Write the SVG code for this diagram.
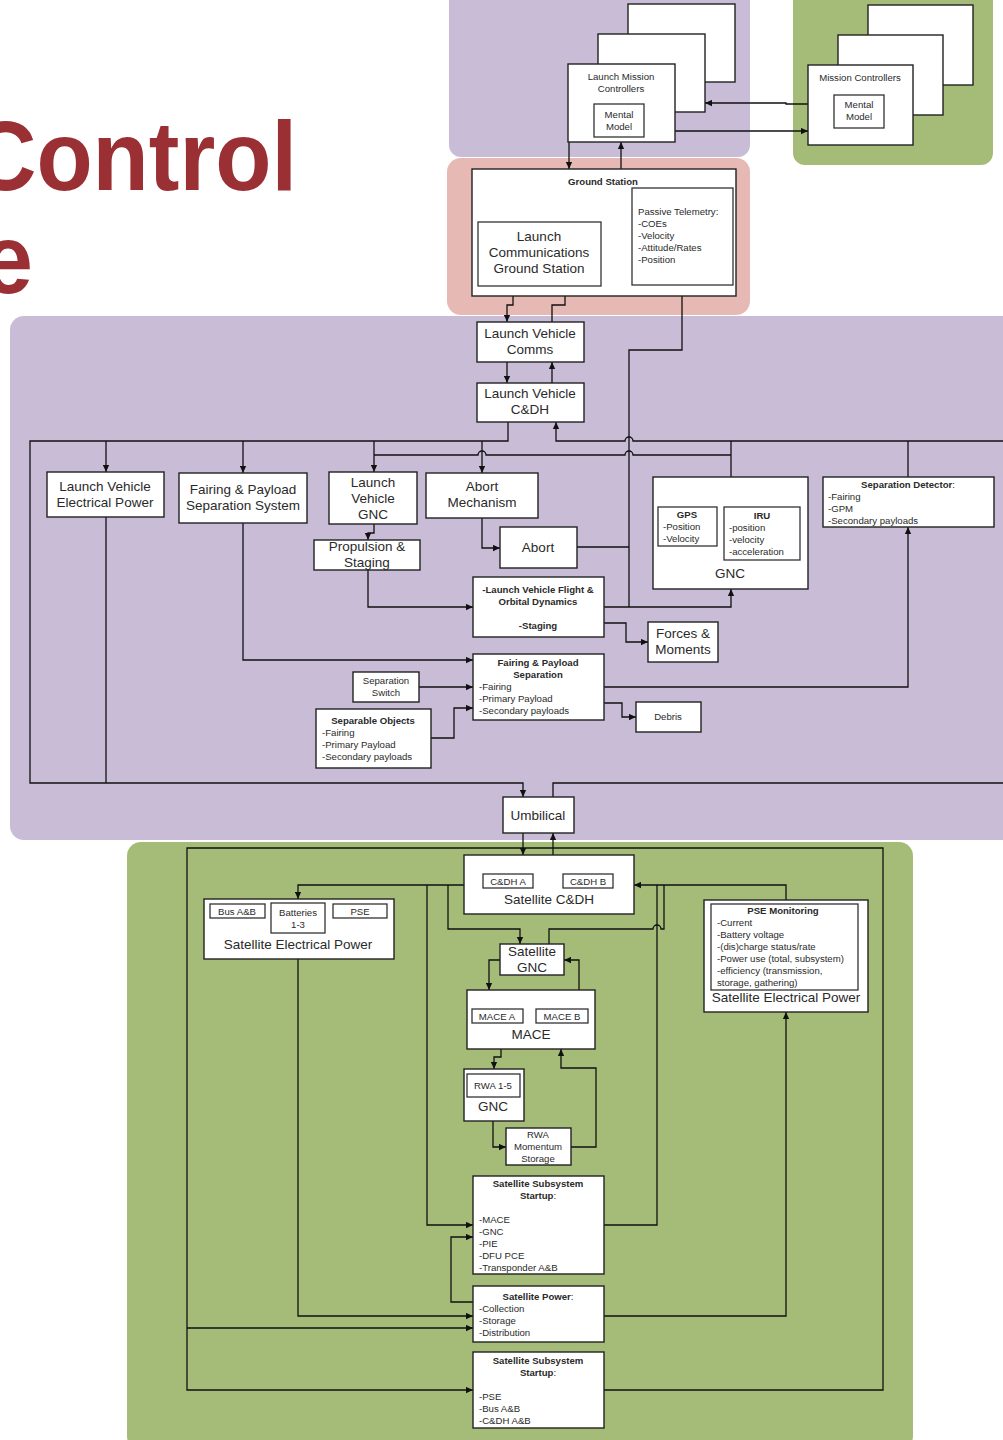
<svg xmlns="http://www.w3.org/2000/svg" width="1003" height="1440" viewBox="0 0 1003 1440">
<defs>
<marker id="ah" viewBox="0 0 10 10" refX="10" refY="5" markerWidth="7" markerHeight="7" markerUnits="userSpaceOnUse" orient="auto"><path d="M0,0.5 L10,5 L0,9.5 z" fill="#111"/></marker>
<style>
.bg{stroke:none}
.box{fill:#fff;stroke:#222;stroke-width:1.4}
.ib{fill:#fff;stroke:#333;stroke-width:1.3}
.ln{fill:none;stroke:#111;stroke-width:1.3}
.a{marker-end:url(#ah)}
text{font-family:"Liberation Sans",Arial,sans-serif;fill:#2a2a2a}
.t13{font-size:13.5px;text-anchor:middle}
.t10{font-size:9.6px}
.c{text-anchor:middle}
.b{font-weight:bold}
.title{font-family:"Liberation Sans",Arial,sans-serif;font-weight:bold;font-size:92px;fill:#9b3034}
</style>
</defs>
<rect width="1003" height="1440" fill="#fff"/>
<!-- background panels -->
<rect class="bg" x="449" y="-12" width="301" height="169" rx="12" fill="#c9bcd7"/>
<rect class="bg" x="793" y="-12" width="200" height="177" rx="12" fill="#a5bc78"/>
<rect class="bg" x="447" y="158" width="303" height="157" rx="14" fill="#e6b9b5"/>
<rect class="bg" x="10" y="316" width="1010" height="524" rx="14" fill="#c9bcd7"/>
<rect class="bg" x="127" y="842" width="786" height="608" rx="14" fill="#a5bc78"/>
<text class="title" transform="translate(297,190) scale(1,1.06)" x="0" y="0" text-anchor="end">Control</text>
<text class="title" transform="translate(33,293) scale(1,1.06)" x="0" y="0" text-anchor="end">e</text>

<g id="connectors">
<!-- top -->
<path class="ln a" d="M808 104 L786 104 L786 103 L705 103"/>
<path class="ln a" d="M675 131 L808 131"/>
<path class="ln a" d="M569 142 L569 169"/>
<path class="ln a" d="M621 169 L621 142"/>
<path class="ln a" d="M513 296 L513 305 L507 305 L507 322"/>
<path class="ln" d="M552 322 L552 305 L565 305 L565 296"/>
<path class="ln a" d="M507 362 L507 383"/>
<path class="ln a" d="M552 383 L552 362"/>
<!-- buses -->
<path class="ln a" d="M508 422 L508 441 L30 441 L30 783 L523 783 L523 797"/>
<path class="ln a" d="M106 441 L106 472"/>
<path class="ln a" d="M243 441 L243 473"/>
<path class="ln" d="M106 517 L106 783"/>
<path class="ln a" d="M1003 441 L633 441 A4 4 0 0 0 625 441 L556 441 L556 422"/>
<path class="ln" d="M731 477 L731 441"/>
<path class="ln" d="M908 477 L908 441"/>
<path class="ln" d="M731 455 L633 455 A4 4 0 0 0 625 455 L486 455 A4 4 0 0 0 478 455 L374 455"/>
<path class="ln a" d="M374 441 L374 472"/>
<path class="ln a" d="M482 441 L482 473"/>
<path class="ln a" d="M629 607 L629 350 L682 350 L682 285"/>
<path class="ln a" d="M374 524 L374 533 L368 533 L368 540"/>
<path class="ln a" d="M368 570 L368 607 L473 607"/>
<path class="ln a" d="M482 518 L482 548 L500 548"/>
<path class="ln" d="M577 547 L629 547"/>
<path class="ln a" d="M604 607 L731 607 L731 589"/>
<path class="ln a" d="M604 623 L626 623 L626 642 L648 642"/>
<path class="ln a" d="M243 523 L243 660 L473 660"/>
<path class="ln a" d="M419 687 L473 687"/>
<path class="ln a" d="M431 738 L454 738 L454 708 L473 708"/>
<path class="ln a" d="M604 687 L908 687 L908 527"/>
<path class="ln a" d="M604 703 L622 703 L622 717 L636 717"/>
<path class="ln" d="M553 797 L553 783 L1003 783"/>
<!-- satellite -->
<path class="ln a" d="M523 833 L523 855"/>
<path class="ln a" d="M553 855 L553 833"/>
<path class="ln a" d="M604 1390 L883 1390 L883 848 L187 848 L187 1390 L473 1390"/>
<path class="ln a" d="M187 1328 L473 1328"/>
<path class="ln a" d="M464 885 L298 885 L298 899"/>
<path class="ln a" d="M448 885 L448 929 L520 929 L520 944"/>
<path class="ln a" d="M427 885 L427 1225 L473 1225"/>
<path class="ln a" d="M786 900 L786 885 L634 885"/>
<path class="ln" d="M549 944 L549 929 L653 929 A4 4 0 0 1 661 929 L664 929 L664 885"/>
<path class="ln" d="M604 1225 L657 1225 L657 885"/>
<path class="ln a" d="M500 960 L489 960 L489 990"/>
<path class="ln a" d="M579 990 L579 960 L564 960"/>
<path class="ln a" d="M501 1049 L501 1057 L494 1057 L494 1069"/>
<path class="ln a" d="M493 1121 L493 1147 L506 1147"/>
<path class="ln a" d="M571 1147 L596 1147 L596 1068 L561 1068 L561 1049"/>
<path class="ln a" d="M473 1302 L451 1302 L451 1237 L473 1237"/>
<path class="ln a" d="M298 959 L298 1316 L473 1316"/>
<path class="ln a" d="M604 1316 L786 1316 L786 1012"/>
</g>

<g id="launch-mission-controllers">
<rect class="box" x="628" y="4" width="107" height="78"/>
<rect class="box" x="598" y="34" width="107" height="78"/>
<rect class="box" x="568" y="64" width="107" height="78"/>
<text class="t10 c" x="621" y="79.5">Launch Mission</text>
<text class="t10 c" x="621" y="91.5">Controllers</text>
<rect class="ib" x="594" y="104" width="50" height="33"/>
<text class="t10 c" x="619" y="117.5">Mental</text>
<text class="t10 c" x="619" y="129.5">Model</text>
</g>
<g id="mission-controllers">
<rect class="box" x="868" y="5" width="105" height="80"/>
<rect class="box" x="838" y="35" width="105" height="80"/>
<rect class="box" x="808" y="65" width="105" height="80"/>
<text class="t10 c" x="860" y="80.5">Mission Controllers</text>
<rect class="ib" x="834" y="95" width="50" height="33"/>
<text class="t10 c" x="859" y="107.5">Mental</text>
<text class="t10 c" x="859" y="119.5">Model</text>
</g>
<g id="ground-station">
<rect class="box" x="472" y="169" width="264" height="127"/>
<text class="t10 c b" x="603" y="184.5">Ground Station</text>
<rect class="ib" x="478" y="222" width="123" height="64"/>
<text class="t13" x="539" y="241">Launch</text>
<text class="t13" x="539" y="257">Communications</text>
<text class="t13" x="539" y="273">Ground Station</text>
<rect class="ib" x="632" y="188" width="101" height="97"/>
<text class="t10" x="638" y="214.5">Passive Telemetry:</text>
<text class="t10" x="638" y="226.5">-COEs</text>
<text class="t10" x="638" y="238.5">-Velocity</text>
<text class="t10" x="638" y="250.5">-Attitude/Rates</text>
<text class="t10" x="638" y="262.5">-Position</text>
</g>
<g id="lv-comms">
<rect class="box" x="477" y="322" width="107" height="40"/>
<text class="t13" x="530" y="338">Launch Vehicle</text>
<text class="t13" x="530" y="354">Comms</text>
</g>
<g id="lv-cdh">
<rect class="box" x="477" y="383" width="107" height="39"/>
<text class="t13" x="530" y="398">Launch Vehicle</text>
<text class="t13" x="530" y="414">C&amp;DH</text>
</g>
<g id="lv-electrical-power">
<rect class="box" x="47" y="472" width="117" height="45"/>
<text class="t13" x="105" y="491">Launch Vehicle</text>
<text class="t13" x="105" y="507">Electrical Power</text>
</g>
<g id="fairing-payload-separation-system">
<rect class="box" x="179" y="473" width="128" height="50"/>
<text class="t13" x="243" y="494">Fairing &amp; Payload</text>
<text class="t13" x="243" y="510">Separation System</text>
</g>
<g id="lv-gnc">
<rect class="box" x="329" y="472" width="88" height="52"/>
<text class="t13" x="373" y="487">Launch</text>
<text class="t13" x="373" y="503">Vehicle</text>
<text class="t13" x="373" y="519">GNC</text>
</g>
<g id="propulsion-staging">
<rect class="box" x="314" y="540" width="106" height="30"/>
<text class="t13" x="367" y="551">Propulsion &amp;</text>
<text class="t13" x="367" y="567">Staging</text>
</g>
<g id="abort-mechanism">
<rect class="box" x="426" y="473" width="112" height="45"/>
<text class="t13" x="482" y="491">Abort</text>
<text class="t13" x="482" y="507">Mechanism</text>
</g>
<g id="abort">
<rect class="box" x="500" y="527" width="77" height="41"/>
<text class="t13" x="538" y="552">Abort</text>
</g>
<g id="flight-dynamics">
<rect class="box" x="473" y="577" width="131" height="60"/>
<text class="t10 c b" x="538" y="592.5">-Launch Vehicle Flight &amp;</text>
<text class="t10 c b" x="538" y="604.5">Orbital Dynamics</text>
<text class="t10 c b" x="538" y="628.5">-Staging</text>
</g>
<g id="forces-moments">
<rect class="box" x="648" y="622" width="70" height="40"/>
<text class="t13" x="683" y="638">Forces &amp;</text>
<text class="t13" x="683" y="654">Moments</text>
</g>
<g id="lv-gnc-sensors">
<rect class="box" x="653" y="477" width="155" height="112"/>
<rect class="ib" x="658" y="507" width="59" height="39"/>
<text class="t10 c b" x="687" y="517.5">GPS</text>
<text class="t10" x="663" y="529.5">-Position</text>
<text class="t10" x="663" y="541.5">-Velocity</text>
<rect class="ib" x="724" y="507" width="76" height="53"/>
<text class="t10 c b" x="762" y="518.5">IRU</text>
<text class="t10" x="729" y="530.5">-position</text>
<text class="t10" x="729" y="542.5">-velocity</text>
<text class="t10" x="729" y="554.5">-acceleration</text>
<text class="t13" x="730" y="578">GNC</text>
</g>
<g id="separation-detector">
<rect class="box" x="823" y="477" width="171" height="50"/>
<text class="t10 c b" x="908" y="487.5">Separation Detector<tspan font-weight="normal">:</tspan></text>
<text class="t10" x="828" y="499.5">-Fairing</text>
<text class="t10" x="828" y="511.5">-GPM</text>
<text class="t10" x="828" y="523.5">-Secondary payloads</text>
</g>
<g id="fairing-payload-separation">
<rect class="box" x="473" y="654" width="131" height="66"/>
<text class="t10 c b" x="538" y="665.5">Fairing &amp; Payload</text>
<text class="t10 c b" x="538" y="677.5">Separation</text>
<text class="t10" x="479" y="689.5">-Fairing</text>
<text class="t10" x="479" y="701.5">-Primary Payload</text>
<text class="t10" x="479" y="713.5">-Secondary payloads</text>
</g>
<g id="separation-switch">
<rect class="box" x="353" y="672" width="66" height="30"/>
<text class="t10 c" x="386" y="683.5">Separation</text>
<text class="t10 c" x="386" y="695.5">Switch</text>
</g>
<g id="separable-objects">
<rect class="box" x="316" y="709" width="115" height="59"/>
<text class="t10 c b" x="373" y="723.5">Separable Objects</text>
<text class="t10" x="322" y="735.5">-Fairing</text>
<text class="t10" x="322" y="747.5">-Primary Payload</text>
<text class="t10" x="322" y="759.5">-Secondary payloads</text>
</g>
<g id="debris">
<rect class="box" x="636" y="702" width="65" height="30"/>
<text class="t10 c" x="668" y="719.5">Debris</text>
</g>
<g id="umbilical">
<rect class="box" x="503" y="797" width="71" height="36"/>
<text class="t13" x="538" y="820">Umbilical</text>
</g>
<g id="satellite-cdh">
<rect class="box" x="464" y="855" width="170" height="59"/>
<rect class="ib" x="483" y="874" width="50" height="14"/>
<text class="t10 c" x="508" y="884.5">C&amp;DH A</text>
<rect class="ib" x="563" y="874" width="50" height="14"/>
<text class="t10 c" x="588" y="884.5">C&amp;DH B</text>
<text class="t13" x="549" y="904">Satellite C&amp;DH</text>
</g>
<g id="satellite-electrical-power-left">
<rect class="box" x="204" y="899" width="190" height="60"/>
<rect class="ib" x="210" y="904" width="55" height="14"/>
<text class="t10 c" x="237" y="914.5">Bus A&amp;B</text>
<rect class="ib" x="271" y="903" width="54" height="30"/>
<text class="t10 c" x="298" y="915.5">Batteries</text>
<text class="t10 c" x="298" y="927.5">1-3</text>
<rect class="ib" x="333" y="904" width="54" height="14"/>
<text class="t10 c" x="360" y="914.5">PSE</text>
<text class="t13" x="298" y="949">Satellite Electrical Power</text>
</g>
<g id="satellite-electrical-power-right">
<rect class="box" x="704" y="900" width="164" height="112"/>
<rect class="ib" x="711" y="904" width="147" height="86"/>
<text class="t10 c b" x="783" y="913.5">PSE Monitoring</text>
<text class="t10" x="717" y="925.5">-Current</text>
<text class="t10" x="717" y="937.5">-Battery voltage</text>
<text class="t10" x="717" y="949.5">-(dis)charge status/rate</text>
<text class="t10" x="717" y="961.5">-Power use (total, subsystem)</text>
<text class="t10" x="717" y="973.5">-efficiency (transmission,</text>
<text class="t10" x="717" y="985.5">storage, gathering)</text>
<text class="t13" x="786" y="1002">Satellite Electrical Power</text>
</g>
<g id="satellite-gnc">
<rect class="box" x="500" y="944" width="64" height="31"/>
<text class="t13" x="532" y="956">Satellite</text>
<text class="t13" x="532" y="972">GNC</text>
</g>
<g id="mace">
<rect class="box" x="467" y="990" width="128" height="59"/>
<rect class="ib" x="472" y="1009" width="51" height="14"/>
<text class="t10 c" x="497" y="1019.5">MACE A</text>
<rect class="ib" x="536" y="1009" width="52" height="14"/>
<text class="t10 c" x="562" y="1019.5">MACE B</text>
<text class="t13" x="531" y="1039">MACE</text>
</g>
<g id="gnc-rwa">
<rect class="box" x="464" y="1069" width="60" height="52"/>
<rect class="ib" x="467" y="1074" width="53" height="23"/>
<text class="t10 c" x="493" y="1088.5">RWA 1-5</text>
<text class="t13" x="493" y="1111">GNC</text>
</g>
<g id="rwa-momentum-storage">
<rect class="box" x="506" y="1128" width="65" height="37"/>
<text class="t10 c" x="538" y="1137.5">RWA</text>
<text class="t10 c" x="538" y="1149.5">Momentum</text>
<text class="t10 c" x="538" y="1161.5">Storage</text>
</g>
<g id="satellite-subsystem-startup-1">
<rect class="box" x="473" y="1176" width="131" height="98"/>
<text class="t10 c b" x="538" y="1186.5">Satellite Subsystem</text>
<text class="t10 c b" x="538" y="1198.5">Startup<tspan font-weight="normal">:</tspan></text>
<text class="t10" x="479" y="1222.5">-MACE</text>
<text class="t10" x="479" y="1234.5">-GNC</text>
<text class="t10" x="479" y="1246.5">-PIE</text>
<text class="t10" x="479" y="1258.5">-DFU PCE</text>
<text class="t10" x="479" y="1270.5">-Transponder A&amp;B</text>
</g>
<g id="satellite-power">
<rect class="box" x="473" y="1286" width="131" height="56"/>
<text class="t10 c b" x="538" y="1299.5">Satellite Power<tspan font-weight="normal">:</tspan></text>
<text class="t10" x="479" y="1311.5">-Collection</text>
<text class="t10" x="479" y="1323.5">-Storage</text>
<text class="t10" x="479" y="1335.5">-Distribution</text>
</g>
<g id="satellite-subsystem-startup-2">
<rect class="box" x="473" y="1352" width="131" height="76"/>
<text class="t10 c b" x="538" y="1363.5">Satellite Subsystem</text>
<text class="t10 c b" x="538" y="1375.5">Startup<tspan font-weight="normal">:</tspan></text>
<text class="t10" x="479" y="1399.5">-PSE</text>
<text class="t10" x="479" y="1411.5">-Bus A&amp;B</text>
<text class="t10" x="479" y="1423.5">-C&amp;DH A&amp;B</text>
</g>
</svg>
